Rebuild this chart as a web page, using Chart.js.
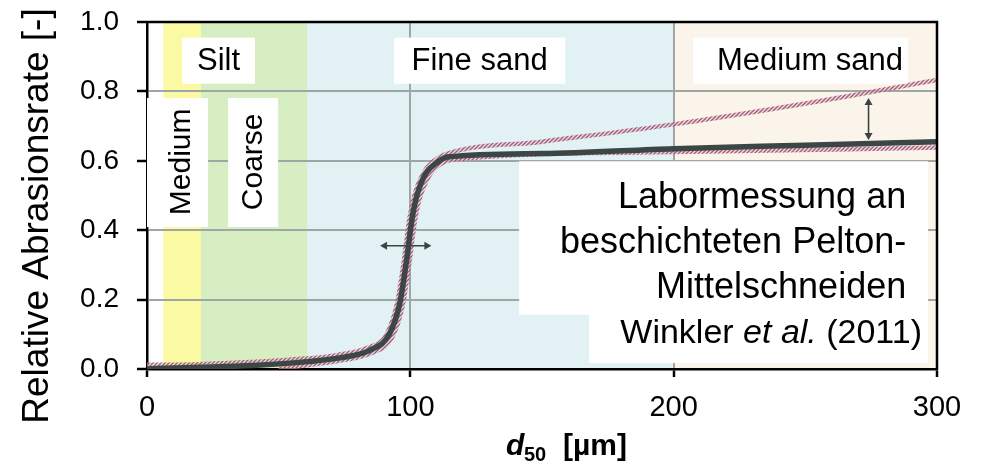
<!DOCTYPE html>
<html><head><meta charset="utf-8">
<script src="https://cdn.jsdelivr.net/npm/chart.js@4.4.0/dist/chart.umd.min.js"></script>
<style>html,body{margin:0;padding:0;background:#fff;}#wrap{width:987px;height:464px;position:relative;}</style>
</head><body><div id="wrap"><canvas id="c" width="987" height="464" style="width:987px;height:464px"></canvas></div>
<script>
// ---- data ----
const xTicks = [0, 100, 200, 300];
const yTicks = [0, 0.2, 0.4, 0.6, 0.8, 1.0];
const bandEdges = [6.2, 20.5, 61, 200, 300];           // medium silt | coarse silt | fine sand | medium sand
const bandNames = ['Medium', 'Coarse', 'Fine sand', 'Medium sand'];
const groupLabel = 'Silt';

const curveX = [0, 5, 20, 40, 62, 73, 85, 92, 96, 98.7, 100.6, 102.5, 106, 110, 114, 150, 200, 250, 300];
const curveY = [0, 0.002, 0.005, 0.01, 0.022, 0.032, 0.055, 0.10, 0.19, 0.32, 0.43, 0.50, 0.565, 0.594, 0.611, 0.621, 0.635, 0.645, 0.655];

const upperX = [0, 20, 60, 72, 84, 91, 95, 97.7, 99.6, 101.5, 105, 109, 113, 150, 200, 250, 300];
const upperY = [0.012, 0.014, 0.03, 0.04, 0.062, 0.10, 0.19, 0.32, 0.43, 0.50, 0.565, 0.60, 0.618, 0.655, 0.705, 0.765, 0.833];

const lowerX = [50, 62, 74, 86, 93, 97, 99.7, 101.6, 103.5, 107, 111, 116, 200, 300];
const lowerY = [0, 0.012, 0.025, 0.048, 0.09, 0.18, 0.31, 0.42, 0.49, 0.555, 0.588, 0.603, 0.625, 0.638];

const hArrowX = [88.5, 108]; const hArrowY = 0.355;
const vArrowX = 274; const vArrowY = [0.781, 0.66];

const noteLines = ['Labormessung an', 'beschichteten Pelton-', 'Mittelschneiden'];
const sourceParts = ['Winkler ', 'et al.', ' (2011)'];
const xTitle = ['d', '50', '[µm]'];
const yTitle = 'Relative Abrasionsrate [-]';

// ---- helpers ----
const F = '"Liberation Sans", Arial, sans-serif';
const toXY = (xs, ys) => xs.map((v, i) => ({x: v, y: ys[i]}));

function hatch() {
  const c = document.createElement('canvas'); c.width = 4; c.height = 4;
  const g = c.getContext('2d');
  g.fillStyle = 'rgba(236,205,215,0.55)'; g.fillRect(0, 0, 4, 4);
  g.strokeStyle = 'rgba(160,88,120,0.95)'; g.lineWidth = 1.5;
  g.beginPath(); g.moveTo(0, 4); g.lineTo(4, 0); g.stroke();
  g.beginPath(); g.moveTo(-1, 1); g.lineTo(1, -1); g.stroke();
  g.beginPath(); g.moveTo(3, 5); g.lineTo(5, 3); g.stroke();
  return document.getElementById('c').getContext('2d').createPattern(c, 'repeat');
}
const hatchPat = hatch();

function arrowHead(ctx, x, y, ang) {
  const L = 7, W = 4;
  ctx.beginPath();
  ctx.moveTo(x, y);
  ctx.lineTo(x - L * Math.cos(ang) + W * Math.sin(ang), y - L * Math.sin(ang) - W * Math.cos(ang));
  ctx.lineTo(x - L * Math.cos(ang) - W * Math.sin(ang), y - L * Math.sin(ang) + W * Math.cos(ang));
  ctx.closePath(); ctx.fill();
}

const bandColors = ['#fbf9a2', '#d7edc2', '#e2f1f3', '#faf4ea'];

const annot = {
  id: 'annot',
  beforeDraw(chart) {
    const {ctx, chartArea: a, scales: {x}} = chart;
    ctx.save();
    ctx.fillStyle = '#fff'; ctx.fillRect(0, 0, chart.width, chart.height);
    for (let i = 0; i < 4; i++) {
      const x0 = x.getPixelForValue(bandEdges[i]), x1 = x.getPixelForValue(bandEdges[i + 1]);
      ctx.fillStyle = bandColors[i];
      ctx.fillRect(x0, a.top, x1 - x0, a.bottom - a.top);
    }
    ctx.restore();
  },
  afterDatasetsDraw(chart) {
    const {ctx, chartArea: a, scales: {x, y}} = chart;
    const X = v => x.getPixelForValue(v), Y = v => y.getPixelForValue(v);
    ctx.save();
    // top label boxes
    const topBoxes = [[13.3, 41.0, groupLabel, 'c'], [93.8, 158.8, bandNames[2], 'c'], [207.4, 289, bandNames[3], 'r']];
    ctx.font = '31px ' + F; ctx.textBaseline = 'middle';
    topBoxes.forEach(b => {
      ctx.fillStyle = '#fff';
      ctx.fillRect(X(b[0]), Y(0.955), X(b[1]) - X(b[0]), Y(0.822) - Y(0.955));
      ctx.fillStyle = '#000';
      if (b[3] === 'c') { ctx.textAlign = 'center'; ctx.fillText(b[2], (X(b[0]) + X(b[1])) / 2, Y(0.888) + 1); }
      else { ctx.textAlign = 'right'; ctx.fillText(b[2], X(b[1]) - 5, Y(0.888) + 1); }
    });
    // vertical boxes
    const vBoxes = [[0, 23.2, bandNames[0], 12.9], [30.8, 49.8, bandNames[1], 40.3]];
    vBoxes.forEach(b => {
      ctx.fillStyle = '#fff';
      ctx.fillRect(X(b[0]), Y(0.781), X(b[1]) - X(b[0]), Y(0.409) - Y(0.781));
      ctx.save();
      ctx.translate(X(b[3]) + 1, Y(0.597));
      ctx.rotate(-Math.PI / 2);
      ctx.fillStyle = '#000'; ctx.textAlign = 'center'; ctx.textBaseline = 'middle';
      ctx.font = '30px ' + F;
      ctx.fillText(b[2], 0, 0);
      ctx.restore();
    });
    // note box (stepped)
    ctx.fillStyle = '#fff';
    ctx.beginPath();
    ctx.moveTo(X(141.3), Y(0.599)); ctx.lineTo(X(296.6), Y(0.599)); ctx.lineTo(X(296.6), Y(0.017));
    ctx.lineTo(X(167.9), Y(0.017)); ctx.lineTo(X(167.9), Y(0.156)); ctx.lineTo(X(141.3), Y(0.156));
    ctx.closePath(); ctx.fill();
    ctx.fillStyle = '#000'; ctx.textAlign = 'right'; ctx.textBaseline = 'alphabetic';
    ctx.font = '36px ' + F;
    const rx = X(288.3);
    [208, 253, 298].forEach((by, i) => ctx.fillText(noteLines[i], rx, by));
    // source
    const sx = X(294.3), by = 343;
    ctx.font = '34px ' + F; const w0 = ctx.measureText(sourceParts[0]).width, w2 = ctx.measureText(sourceParts[2]).width;
    ctx.font = 'italic 34px ' + F; const w1 = ctx.measureText(sourceParts[1]).width;
    ctx.textAlign = 'left';
    let cx = sx - w0 - w1 - w2;
    ctx.font = '34px ' + F; ctx.fillText(sourceParts[0], cx, by); cx += w0;
    ctx.font = 'italic 34px ' + F; ctx.fillText(sourceParts[1], cx, by); cx += w1;
    ctx.font = '34px ' + F; ctx.fillText(sourceParts[2], cx, by);
    // arrows
    ctx.strokeStyle = '#3c4443'; ctx.fillStyle = '#3c4443'; ctx.lineWidth = 1.6;
    ctx.beginPath(); ctx.moveTo(X(hArrowX[0]) + 3, Y(hArrowY)); ctx.lineTo(X(hArrowX[1]) - 3, Y(hArrowY)); ctx.stroke();
    arrowHead(ctx, X(hArrowX[0]), Y(hArrowY), Math.PI);
    arrowHead(ctx, X(hArrowX[1]), Y(hArrowY), 0);
    ctx.beginPath(); ctx.moveTo(X(vArrowX), Y(vArrowY[0]) + 3); ctx.lineTo(X(vArrowX), Y(vArrowY[1]) - 3); ctx.stroke();
    arrowHead(ctx, X(vArrowX), Y(vArrowY[0]), -Math.PI / 2);
    arrowHead(ctx, X(vArrowX), Y(vArrowY[1]), Math.PI / 2);
    ctx.restore();
  },
  afterDraw(chart) {
    const {ctx, chartArea: a} = chart;
    ctx.save();
    ctx.strokeStyle = '#000'; ctx.lineWidth = 2.5;
    ctx.beginPath(); ctx.moveTo(a.left - 1, a.top); ctx.lineTo(a.right, a.top); ctx.lineTo(a.right, a.bottom + 1); ctx.stroke();
    // y title
    ctx.translate(38, 216); ctx.rotate(-Math.PI / 2);
    ctx.fillStyle = '#000'; ctx.textAlign = 'center'; ctx.textBaseline = 'middle';
    ctx.font = '37px ' + F; ctx.fillText(yTitle, 0, 0);
    ctx.restore();
    // x title
    ctx.save(); ctx.fillStyle = '#000'; ctx.textBaseline = 'alphabetic'; ctx.textAlign = 'left';
    ctx.font = 'italic bold 30px ' + F; ctx.fillText(xTitle[0], 506, 455);
    ctx.font = 'bold 20px ' + F; ctx.fillText(xTitle[1], 524, 461);
    ctx.font = 'bold 30px ' + F; ctx.fillText(xTitle[2], 563, 455);
    ctx.restore();
  }
};

new Chart(document.getElementById('c'), {
  type: 'line',
  data: {
    datasets: [
      {data: toXY(curveX, curveY), borderColor: '#3b4645', borderWidth: 5.5, pointRadius: 0, cubicInterpolationMode: 'monotone'},
      {data: toXY(upperX, upperY), borderColor: hatchPat, borderWidth: 4.5, pointRadius: 0, cubicInterpolationMode: 'monotone'},
      {data: toXY(lowerX, lowerY), borderColor: hatchPat, borderWidth: 4.5, pointRadius: 0, cubicInterpolationMode: 'monotone'}
    ]
  },
  options: {
    responsive: false, animation: false, devicePixelRatio: 1,
    layout: {padding: {top: 22, right: 50, left: 0, bottom: 0}},
    plugins: {legend: {display: false}, tooltip: {enabled: false}},
    scales: {
      x: {
        type: 'linear', min: 0, max: 300,
        afterBuildTicks: s => { s.ticks = xTicks.map(v => ({value: v})); },
        afterFit: s => { s.height = 95; s.paddingLeft = 0; s.paddingRight = 0; },
        ticks: {color: '#000', font: {family: F, size: 29}, padding: 14, maxRotation: 0, callback: v => String(v)},
        grid: {color: '#9ea6a6', lineWidth: 2, tickColor: '#000', tickLength: 8, tickWidth: 2.5},
        border: {color: '#000', width: 2.5}
      },
      y: {
        type: 'linear', min: 0, max: 1,
        afterBuildTicks: s => { s.ticks = yTicks.map(v => ({value: v})); },
        afterFit: s => { s.width = 147; s.paddingTop = 0; s.paddingBottom = 0; },
        ticks: {color: '#000', font: {family: F, size: 28}, padding: 18, callback: v => Number(v).toFixed(1)},
        grid: {color: '#9ea6a6', lineWidth: 2, tickColor: '#000', tickLength: 10, tickWidth: 2.5},
        border: {color: '#000', width: 2.5}
      }
    }
  },
  plugins: [annot]
});
</script></body></html>
